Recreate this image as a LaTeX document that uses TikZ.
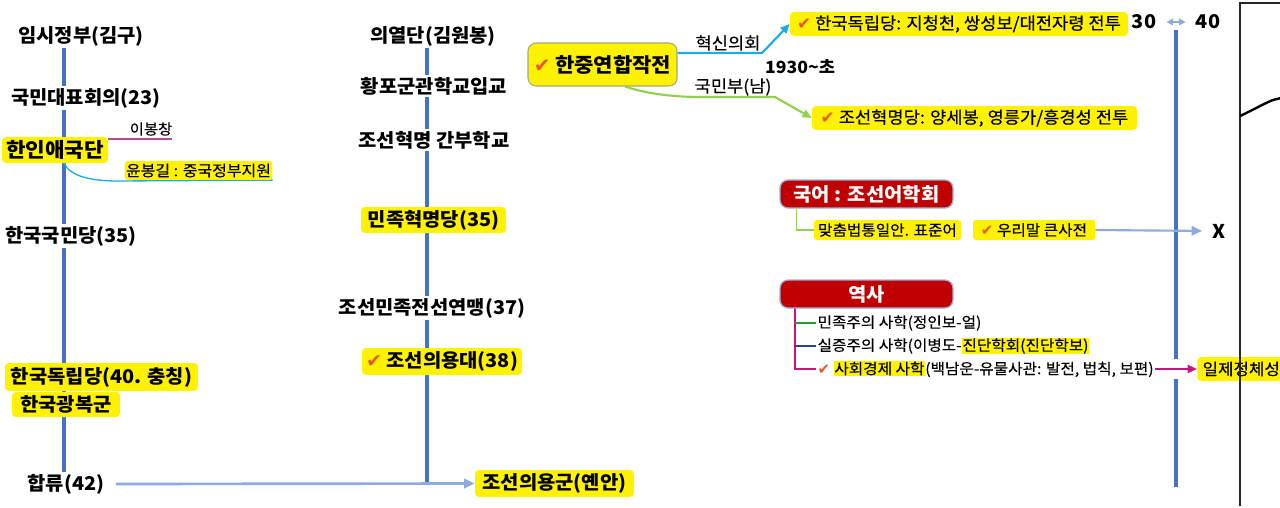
\documentclass[tikz,border=0pt]{standalone}
\usepackage{fontspec}
\setmainfont{Noto Sans CJK KR}[FakeStretch=1.05]
\newfontfamily\medf{Noto Sans CJK KR}[FakeStretch=1.05,FakeBold=0.35]
\newfontfamily\symfont{DejaVu Sans}
\usetikzlibrary{backgrounds,arrows.meta}
\definecolor{axblue}{HTML}{4472C4}
\definecolor{lblue}{HTML}{8FAADC}
\definecolor{cyanl}{HTML}{1EAAE6}
\definecolor{lmag}{HTML}{B8489A}
\definecolor{hmag}{HTML}{C8147E}
\definecolor{lgreen}{HTML}{92D050}
\definecolor{hgreen}{HTML}{1E9E3C}
\definecolor{hnavy}{HTML}{2A3F9A}
\definecolor{dred}{HTML}{C00000}
\definecolor{redborder}{HTML}{9DB3D6}
\definecolor{chkred}{HTML}{E8592C}
\definecolor{ybord}{HTML}{A8A878}
\newcommand\chk{{\symfont\color{chkred}\char"2714}}
\newcommand\hlt[1]{{\setlength\fboxsep{0.6pt}\colorbox{yellow}{#1}}}
\begin{document}
\begin{tikzpicture}[x=0.75pt,y=-0.75pt,
  big/.style={font=\bfseries\fontsize{14.2}{16}\selectfont, inner sep=1.5pt},
  wbg/.style={fill=white},
  yb/.style={fill=yellow, rounded corners=3pt, inner sep=1pt},
  sm/.style={font=\medf\fontsize{11.2}{13}\selectfont, inner sep=1pt},
  md/.style={font=\medf\fontsize{12.6}{14}\selectfont, inner sep=1pt},
  axis/.style={draw=axblue, line width=3pt},
  larrow/.style={draw=lblue, line width=2pt, -{Triangle[length=8pt,width=7pt]}},
  redbox/.style={fill=dred, draw=redborder, line width=1pt, rounded corners=6pt, text=white,
     font=\bfseries\fontsize{14.2}{16}\selectfont, minimum width=129.75pt, minimum height=21pt, inner sep=1pt}
]
\useasboundingbox (0,0) rectangle (1280,507);
\clip (0,0) rectangle (1280,507);

% ---------- left column ----------
\coordinate (axL) at (64,0);
\node[big,wbg] (L1) at (81,36) {임시정부(김구)};
\node[big,wbg] (L2) at (86,98) {국민대표회의(23)};
\node[big,yb,font=\bfseries\fontsize{15.2}{17}\selectfont,minimum width=79.5pt,minimum height=19.5pt] (L3) at (55,150) {한인애국단};
\node[sm,font=\medf\fontsize{11}{12}\selectfont] (L3a) at (151,129) {이봉창};
\coordinate (c1) at (172,139);
\node[yb,font=\medf\fontsize{11.4}{12}\selectfont,rounded corners=2pt,minimum width=107pt,minimum height=14pt] (L3b) at (198.5,170.5) {윤봉길 : 중국정부지원};
\node[big,wbg] (L4) at (71,236) {한국국민당(35)};
\node[big,yb,minimum width=144.75pt,minimum height=21pt] (L5) at (101.5,377) {한국독립당(40. 충칭)};
\node[big,yb,minimum width=81pt,minimum height=18.75pt] (L6) at (66,404.5) {한국광복군};
\node[big,wbg] (L7) at (66,484) {합류(42)};

% ---------- middle column ----------
\coordinate (axM) at (427,0);
\node[big,wbg] (M1) at (433,36) {의열단(김원봉)};
\node[big,wbg] (M2) at (434,86) {황포군관학교입교};
\node[big,wbg] (M3) at (434,140) {조선혁명 간부학교};
\node[big,yb,minimum width=108.75pt,minimum height=19.5pt] (M4) at (433.5,220) {민족혁명당(35)};
\node[big,wbg] (M5) at (432,308) {조선민족전선연맹(37)};
\node[big,yb,minimum width=120pt,minimum height=20.25pt] (M6) at (442,361.5) {\chk\ 조선의용대(38)};
\node[big,yb,minimum width=119.25pt,minimum height=20.25pt] (M7) at (554.5,483.5) {조선의용군(옌안)};

% ---------- right: 한중연합작전 ----------
\node[big,yb,draw=ybord,line width=0.8pt,rounded corners=6pt,font=\bfseries\fontsize{15}{17}\selectfont,minimum width=111.75pt,minimum height=32.25pt] (R1) at (602.5,64.5) {\chk\ 한중연합작전};
\node[md,yb,minimum width=253.5pt,minimum height=18pt] (R2) at (959,24) {\chk\ 한국독립당: 지청천, 쌍성보/대전자령 전투};
\node[md,yb,minimum width=243.75pt,minimum height=18pt] (R3) at (974.5,118) {\chk\ 조선혁명당: 양세봉, 영릉가/흥경성 전투};
\node[md] (Ra) at (728,43) {혁신의회};
\node[md] (Rb) at (733,87) {국민부(남)};
\node[md,font=\bfseries\fontsize{12.6}{14}\selectfont] (Rc) at (800,67) {1930\textasciitilde 초};
\coordinate (k1) at (762,53);
\coordinate (k2) at (700,97);
\coordinate (k3) at (775,97);

% ---------- right timeline ----------
\node[big] (T30) at (1144,22) {30};
\node[big] (T40) at (1208,22) {40};
\coordinate (r0) at (1176,30);
\coordinate (r1) at (1176,359);
\coordinate (r2) at (1176,379);
\coordinate (r3) at (1176,487);

% ---------- 국어 ----------
\node[redbox] (K) at (866.5,194) {국어 : 조선어학회};
\node[yb,sm,rounded corners=2pt,minimum width=110.25pt,minimum height=15pt] (K1) at (887.5,230) {맞춤법통일안. 표준어};
\node[yb,sm,rounded corners=2pt,minimum width=91.5pt,minimum height=15pt] (K2) at (1034,230) {\chk\ 우리말 큰사전};
\node[big] (X) at (1219,231) {X};

% ---------- 역사 ----------
\node[redbox] (H) at (866.5,294) {역사};
\node[sm,anchor=west] (H1) at (816,323) {민족주의 사학(정인보-얼)};
\node[sm,anchor=west] (H2) at (816,346) {실증주의 사학(이병도-\hlt{진단학회(진단학보)}};
\node[sm,anchor=west] (H3) at (816,369) {\chk\ \hlt{사회경제 사학}(백남운-유물사관: 발전, 법칙, 보편)};
\node[md,yb,anchor=west,minimum height=18pt,inner xsep=4pt,font=\medf\fontsize{12}{14}\selectfont] (J) at (1197,369) {일제정체성비판};
\coordinate (hx) at (795,308);

% ---------- connectors (behind) ----------
\begin{scope}[on background layer]
\draw[axis] (L1.south -| axL) -- (L7.north -| axL);
\draw[axis] (M1.south -| axM) -- (M7.west -| axM);
\draw[axis] (r0) -- (r1);
\draw[axis] (r2) -- (r3);
\draw[lmag,line width=1pt] (L3.east |- c1) -- (c1);
\draw[cyanl,line width=1pt] (L3.south -| axL) .. controls (70,176) and (90,181) .. (118,181) -- (L3b.south east);
\draw[larrow] ([xshift=7pt]L7.east) -- (M7.west);
\draw[cyanl,line width=1.6pt,-{Triangle[length=7pt,width=6pt]}] ([yshift=8.6pt]R1.east) -- (k1) -- (R2.west);
\draw[lgreen,line width=1.6pt,-{Triangle[length=7pt,width=6pt]}] ([xshift=17pt]R1.south) .. controls (650,95) and (680,97) .. (k2) -- (k3) -- (R3.west);
\draw[lblue,line width=1.5pt,{Triangle[length=5pt,width=5pt]}-{Triangle[length=5pt,width=5pt]},shorten <=6pt,shorten >=6pt] (T30.east) -- (T40.west);
\draw[lgreen,line width=0.8pt] ([xshift=12.75pt]K.south west) |- (K1.west);
\draw[larrow,line width=1.6pt,shorten >=6pt] (K2.east) -- (X.west);
\draw[hmag,line width=1pt] (hx) |- (H3.west);
\draw[hgreen,line width=1pt] (hx |- H1.west) -- (H1.west);
\draw[hnavy,line width=1pt] (hx |- H2.west) -- (H2.west);
\draw[hmag,line width=1.6pt,-{Triangle[length=7pt,width=6pt]}] (H3.east) -- (J.west);
\end{scope}

% ---------- right frame ----------
\draw[black!85,line width=0.8pt] (1240,506) -- (1240,3) -- (1281,3);
\draw[black,line width=1.8pt] (1240,116) .. controls (1255,109) and (1265,103) .. (1273,100) -- (1281,98);
\end{tikzpicture}
\end{document}
